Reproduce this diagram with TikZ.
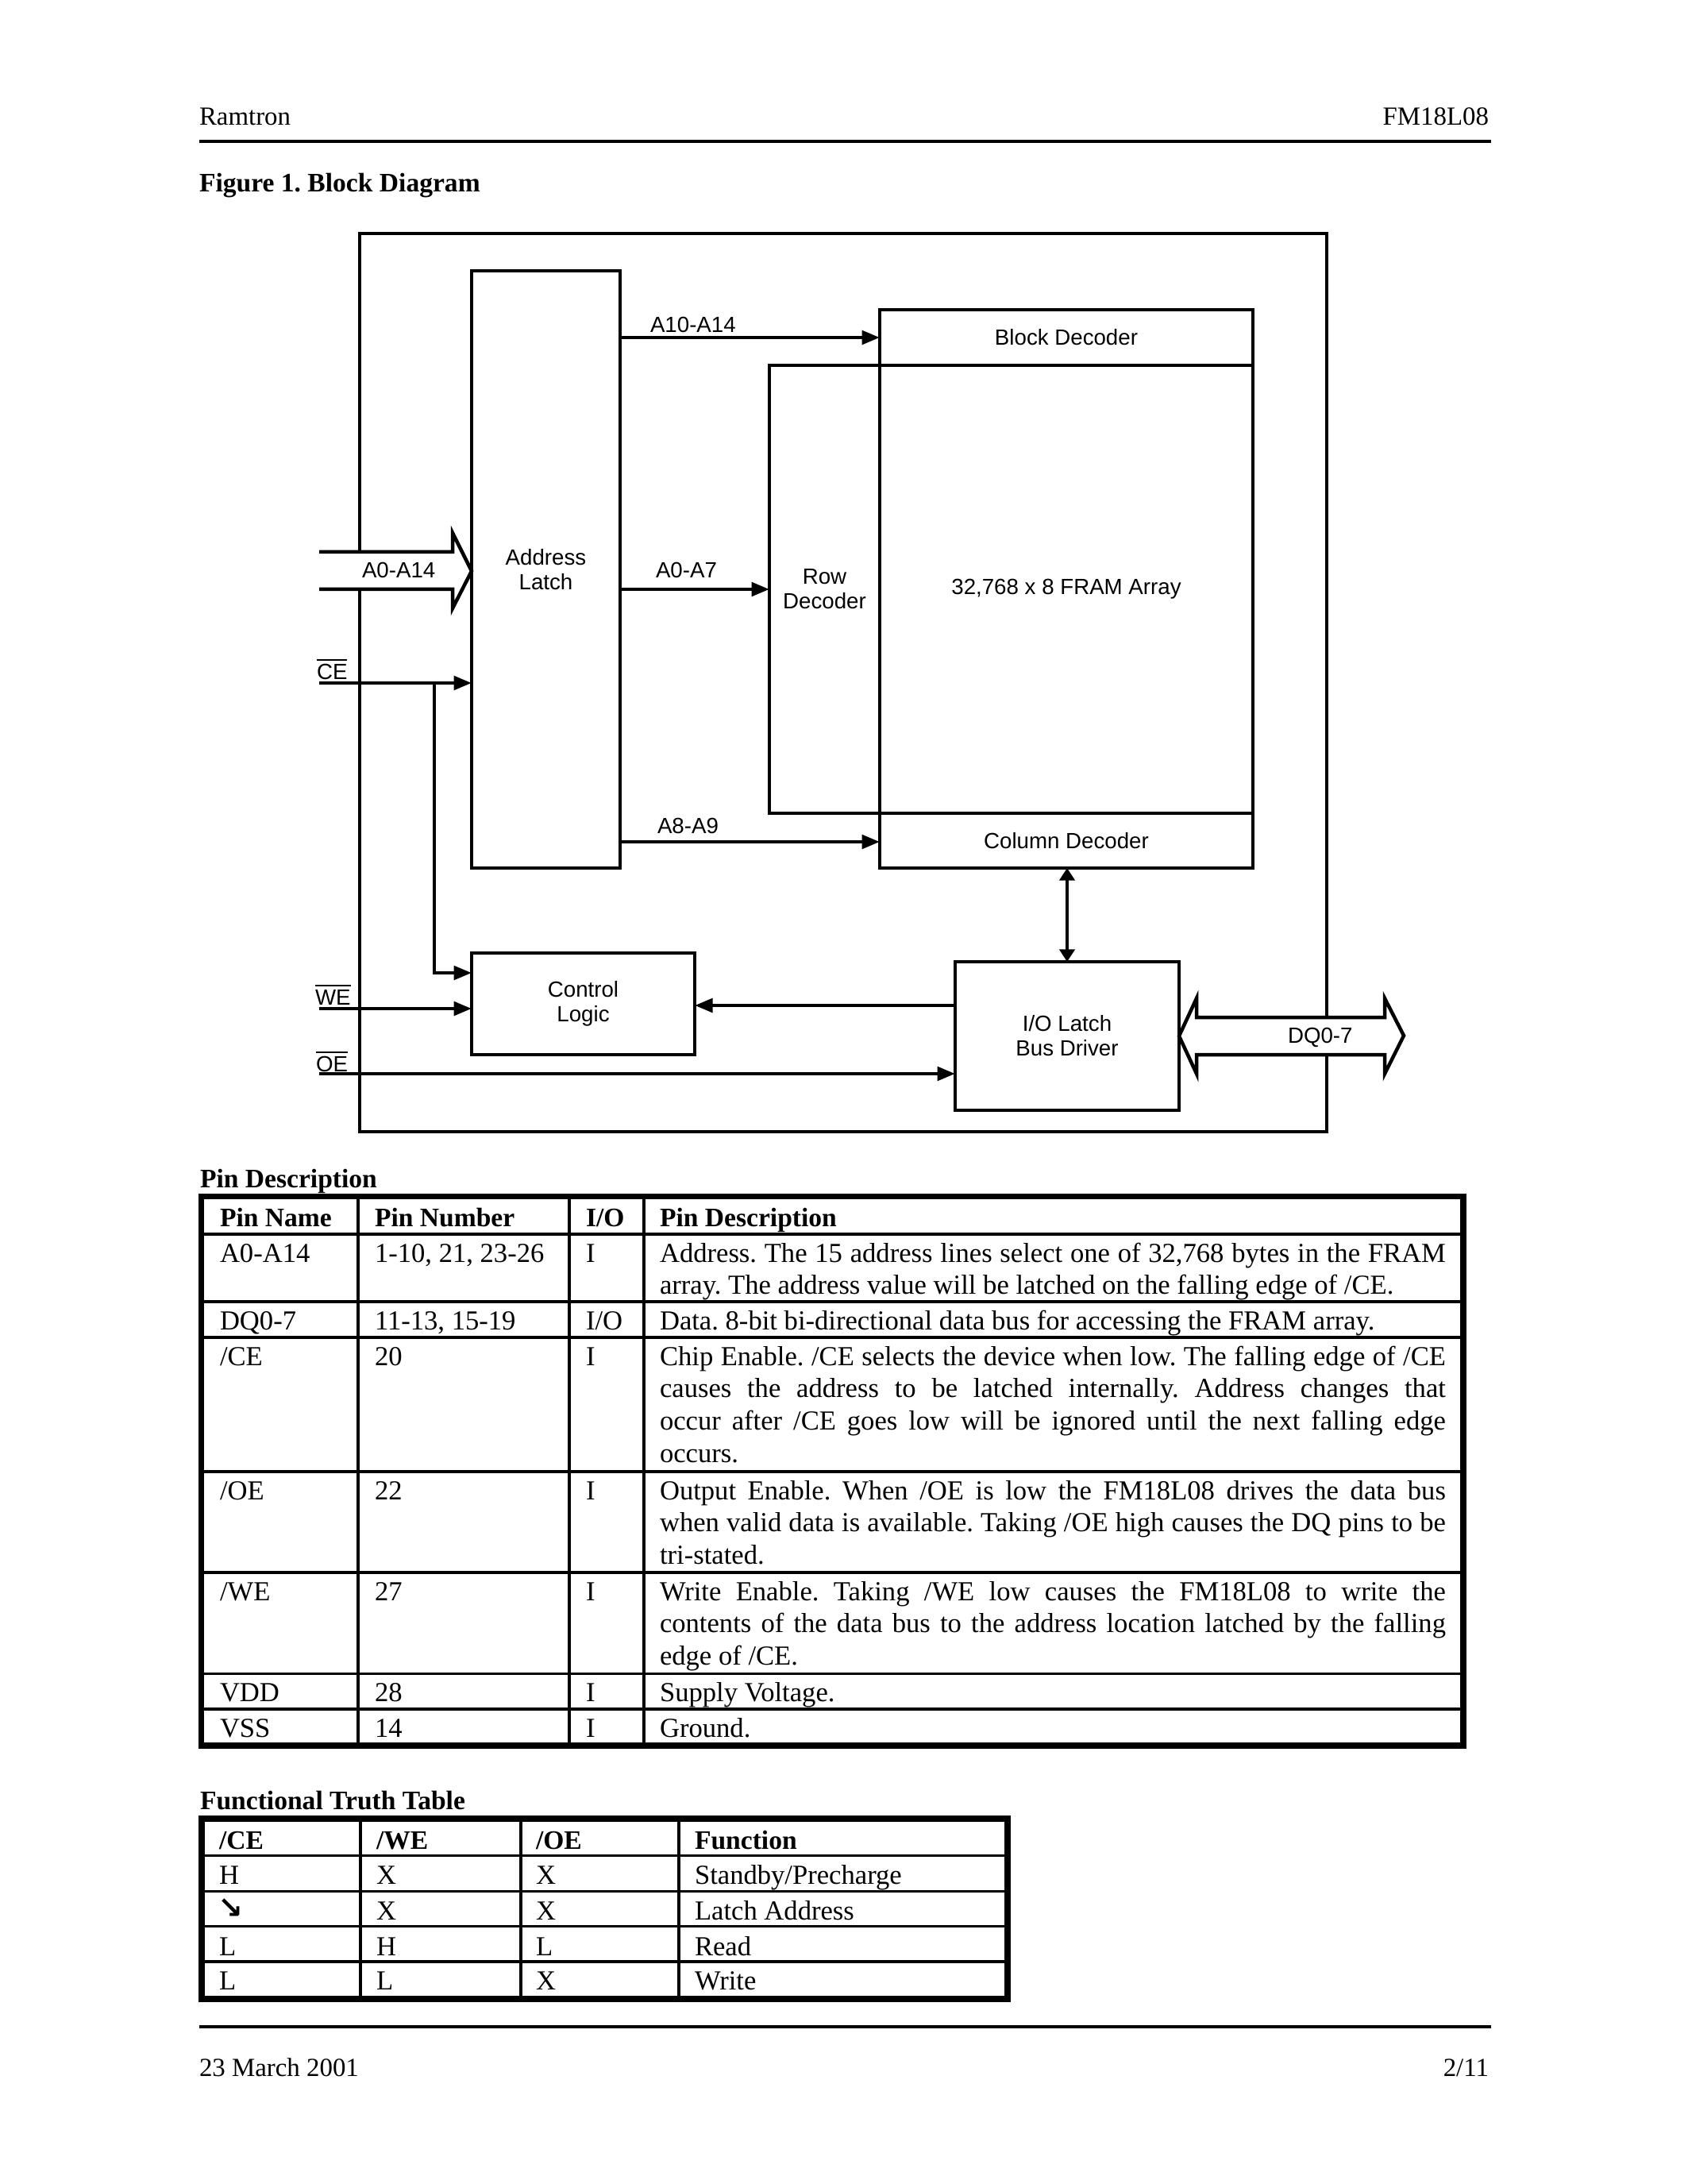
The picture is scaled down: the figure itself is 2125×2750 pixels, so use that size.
\documentclass[tikz,border=0pt]{standalone}
\usepackage{fontspec}
\setmainfont{Liberation Serif}
\newfontfamily\diagfont{Liberation Sans}
\newfontfamily\symfont{DejaVu Sans}
\usetikzlibrary{arrows.meta}
\def\pxu{0.004in}
\hyphenpenalty=10000
\exhyphenpenalty=10000
\tolerance=9999
\frenchspacing
\begin{document}
\begin{tikzpicture}[x=0.004in,y=-0.004in,
 every node/.style={inner sep=0pt, outer sep=0pt},
 txt/.style={anchor=base west, font=\fontsize{10pt}{11.8pt}\selectfont},
 htxt/.style={anchor=base west, font=\fontsize{9.5pt}{11pt}\selectfont},
 htxtr/.style={anchor=base east, font=\fontsize{9.5pt}{11pt}\selectfont},
 btxt/.style={anchor=base west, font=\fontsize{9.7pt}{11.8pt}\selectfont\bfseries},
 desc/.style={txt, text width=286pt, align=justify},
 lab/.style={anchor=base west, font=\diagfont\fontsize{8pt}{9pt}\selectfont},
 blk/.style={draw, line width=1.3pt, align=center, font=\diagfont\fontsize{8pt}{9pt}\selectfont},
 wire/.style={line width=1.3pt},
 arr/.style={wire, -{Triangle[length=6.5pt,width=5pt]}},
 biarr/.style={wire, {Triangle[length=4.5pt,width=5.5pt]}-{Triangle[length=4.5pt,width=5.5pt]}},
 tframe/.style={line width=2.3pt},
 tline/.style={line width=1.1pt},
 prule/.style={line width=1.15pt}]
\useasboundingbox (0,0) rectangle (2125,2750);

% ---------- header / footer ----------
\node[htxt] (hl) at (251,158) {Ramtron};
\node[htxtr] (hr) at (1875,158) {FM18L08};
\draw[prule] (251,178) -- (1878,178);
\node[btxt] (fig) at (251,242) {Figure 1. Block Diagram};
\draw[prule] (251,2552) -- (1878,2552);
\node[htxt] (fl) at (251,2614) {23 March 2001};
\node[htxtr] (fr) at (1875,2614) {2/11};

% ---------- block diagram ----------
\draw[wire] (453,695) -- (453,294) -- (1671,294) -- (1671,1281);
\draw[wire] (1671,1328) -- (1671,1425) -- (453,1425) -- (453,742);

\node[blk, minimum width=187*\pxu, minimum height=752*\pxu] (lat) at (687.5,717) {Address\\Latch};
\node[blk, minimum width=470*\pxu, minimum height=70*\pxu] (blkd) at (1343,425) {Block Decoder};
\node[blk, minimum width=470*\pxu, minimum height=564*\pxu] (fram) at (1343,742) {32,768 x 8 FRAM Array};
\node[blk, minimum width=139*\pxu, minimum height=564*\pxu] (row) at (1038.5,742) {Row\\Decoder};
\node[blk, minimum width=470*\pxu, minimum height=69*\pxu] (col) at (1343,1058.5) {Column Decoder};
\node[blk, minimum width=281*\pxu, minimum height=128*\pxu] (ctl) at (734.5,1264) {Control\\Logic};
\node[blk, minimum width=282*\pxu, minimum height=187*\pxu] (io) at (1344,1304.5) {I/O Latch\\Bus Driver};

% address bus input
\coordinate (busTip) at (594,719);
\draw[wire] (402,695) -- (570,695) -- (570,671) -- (busTip) -- (570,766) -- (570,742) -- (402,742);
% data bus
\draw[wire] (io.east) -- (1507,1257) -- (1507,1281) -- (1744,1281) -- (1744,1257) -- (1768,1304)
  -- (1744,1352) -- (1744,1328) -- (1507,1328) -- (1507,1352) -- cycle;

% internal connectors
\draw[arr] (lat.east |- blkd.west) -- (blkd.west);
\draw[arr] (lat.east |- row.west) -- (row.west);
\coordinate (a89) at (781,1060);
\draw[arr] (a89 -| lat.east) -- (a89 -| col.west);
\draw[biarr] (io.north |- col.south) -- (io.north);
\coordinate (fb) at (1203,1266);
\draw[arr] (fb -| io.west) -- (fb -| ctl.east);

% control inputs
\coordinate (ceS) at (402,860);
\draw[arr] (ceS) -- (ceS -| lat.west);
\coordinate (ceB) at (547,860);
\coordinate (ceC) at (547,1225);
\draw[arr] (ceB) -- (ceC) -- (ceC -| ctl.west);
\coordinate (weS) at (402,1270);
\draw[arr] (weS) -- (weS -| ctl.west);
\coordinate (oeS) at (402,1352);
\draw[arr] (oeS) -- (oeS -| io.west);

% labels
\node[lab] (lA1014) at (819,419) {A10-A14};
\node[lab] (lA07) at (826,728) {A0-A7};
\node[lab] (lA89) at (828,1049) {A8-A9};
\node[lab] (lA014) at (456,728) {A0-A14};
\node[lab] (lDQ) at (1622,1313) {DQ0-7};
\node[lab] (lCE) at (399,855) {$\overline{\mbox{CE}}$};
\node[lab] (lWE) at (397,1265) {$\overline{\mbox{WE}}$};
\node[lab] (lOE) at (398,1349) {$\overline{\mbox{OE}}$};

% ---------- pin description table ----------
\node[btxt] (pdt) at (252,1495) {Pin Description};
\foreach \yy in {1554,1639,1684,1853,1980,2107.5,2152} \draw[tline] (253.5,\yy) -- (1843,\yy);
\foreach \xx in {451,717,811} \draw[tline] (\xx,1506.5) -- (\xx,2198);
\draw[tframe] (253.5,1506.5) rectangle (1843,2198);

\node[btxt] (ph1) at (277,1544) {Pin Name};
\node[btxt] (ph2) at (472,1544) {Pin Number};
\node[btxt] (ph3) at (738,1544) {I/O};
\node[btxt] (ph4) at (831,1544) {Pin Description};

\node[txt] (pa1) at (277,1589) {A0-A14};
\node[txt] (pa2) at (472,1589) {1-10, 21, 23-26};
\node[txt] (pa3) at (738,1589) {I};
\node[desc] (pa4) at (831,1589) {Address. The 15 address lines select one of 32,768 bytes in the FRAM\linebreak array. The address value will be latched on the falling edge of /CE.};

\node[txt] (pb1) at (277,1674) {DQ0-7};
\node[txt] (pb2) at (472,1674) {11-13, 15-19};
\node[txt] (pb3) at (738,1674) {I/O};
\node[desc] (pb4) at (831,1674) {Data. 8-bit bi-directional data bus for accessing the FRAM array.};

\node[txt] (pc1) at (277,1719) {/CE};
\node[txt] (pc2) at (472,1719) {20};
\node[txt] (pc3) at (738,1719) {I};
\node[desc] (pc4) at (831,1719) {Chip Enable. /CE selects the device when low. The falling edge of /CE\linebreak causes the address to be latched internally. Address changes that\linebreak occur after /CE goes low will be ignored until the next falling edge\linebreak occurs.};

\node[txt] (pd1) at (277,1888) {/OE};
\node[txt] (pd2) at (472,1888) {22};
\node[txt] (pd3) at (738,1888) {I};
\node[desc] (pd4) at (831,1888) {Output Enable. When /OE is low the FM18L08 drives the data bus\linebreak when valid data is available. Taking /OE high causes the DQ pins to be\linebreak tri-stated.};

\node[txt] (pe1) at (277,2015) {/WE};
\node[txt] (pe2) at (472,2015) {27};
\node[txt] (pe3) at (738,2015) {I};
\node[desc] (pe4) at (831,2015) {Write Enable. Taking /WE low causes the FM18L08 to write the\linebreak contents of the data bus to the address location latched by the falling\linebreak edge of /CE.};

\node[txt] (pf1) at (277,2142) {VDD};
\node[txt] (pf2) at (472,2142) {28};
\node[txt] (pf3) at (738,2142) {I};
\node[txt] (pf4) at (831,2142) {Supply Voltage.};

\node[txt] (pg1) at (277,2187) {VSS};
\node[txt] (pg2) at (472,2187) {14};
\node[txt] (pg3) at (738,2187) {I};
\node[txt] (pg4) at (831,2187) {Ground.};

% ---------- functional truth table ----------
\node[btxt] (ftt) at (252,2278) {Functional Truth Table};
\foreach \yy in {2336.5,2381.5,2425.5,2470} \draw[tline] (254,\yy) -- (1269,\yy);
\foreach \xx in {454,656,855} \draw[tline] (\xx,2290) -- (\xx,2517);
\draw[tframe] (254,2290) rectangle (1269,2517);

\node[btxt] (th1) at (276,2328) {/CE};
\node[btxt] (th2) at (474,2328) {/WE};
\node[btxt] (th3) at (675,2328) {/OE};
\node[btxt] (th4) at (875,2328) {Function};

\node[txt] (ta1) at (276,2372) {H};
\node[txt] (ta2) at (474,2372) {X};
\node[txt] (ta3) at (675,2372) {X};
\node[txt] (ta4) at (875,2372) {Standby/Precharge};

\node[anchor=base west, font=\symfont\bfseries\fontsize{11pt}{11pt}\selectfont] (tb1) at (274,2415) {↘};
\node[txt] (tb2) at (474,2417) {X};
\node[txt] (tb3) at (675,2417) {X};
\node[txt] (tb4) at (875,2417) {Latch Address};

\node[txt] (tc1) at (276,2462) {L};
\node[txt] (tc2) at (474,2462) {H};
\node[txt] (tc3) at (675,2462) {L};
\node[txt] (tc4) at (875,2462) {Read};

\node[txt] (td1) at (276,2505) {L};
\node[txt] (td2) at (474,2505) {L};
\node[txt] (td3) at (675,2505) {X};
\node[txt] (td4) at (875,2505) {Write};
\end{tikzpicture}
\end{document}
